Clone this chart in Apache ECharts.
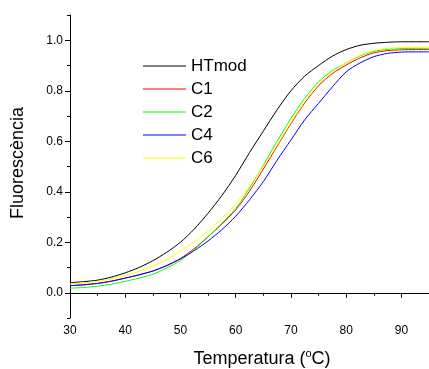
<!DOCTYPE html>
<html>
<head>
<meta charset="utf-8">
<script src="https://cdn.jsdelivr.net/npm/echarts@6/dist/echarts.min.js"></script>
<style>html,body{margin:0;padding:0;background:#fff}#c{width:429px;height:369px}</style>
</head>
<body>
<div id="c"></div>
<script>
const temps = [30,32.5,35,37.5,40,42.5,45,47.5,50,52.5,55,57.5,60,62.5,65,67.5,70,72.5,75,77.5,80,82.5,85,87.5,90,92.5,95];
const seriesNames = ['HTmod','C1','C2','C4','C6'];
const htmod = [0.040,0.044,0.050,0.062,0.079,0.100,0.127,0.160,0.200,0.252,0.315,0.385,0.465,0.555,0.640,0.725,0.800,0.858,0.900,0.937,0.963,0.980,0.988,0.992,0.994,0.994,0.994];
const c1 = [0.028,0.031,0.037,0.046,0.058,0.071,0.086,0.108,0.136,0.175,0.222,0.272,0.328,0.402,0.490,0.580,0.670,0.752,0.820,0.868,0.902,0.930,0.950,0.959,0.962,0.963,0.963];
const c2 = [0.018,0.021,0.026,0.034,0.045,0.058,0.073,0.098,0.128,0.170,0.222,0.275,0.333,0.415,0.505,0.600,0.690,0.770,0.835,0.880,0.910,0.938,0.956,0.964,0.967,0.968,0.968];
const c4 = [0.028,0.032,0.037,0.046,0.058,0.071,0.086,0.107,0.134,0.167,0.205,0.250,0.303,0.368,0.440,0.525,0.605,0.685,0.750,0.815,0.875,0.910,0.935,0.948,0.953,0.954,0.954];
const c6 = [0.035,0.039,0.045,0.055,0.068,0.085,0.106,0.132,0.165,0.202,0.245,0.295,0.352,0.422,0.500,0.585,0.675,0.757,0.825,0.875,0.910,0.940,0.960,0.968,0.971,0.972,0.972];
const yTickLabels = [0.0,0.2,0.4,0.6,0.8,1.0];
const xTitle = 'Temperatura (°C)';
const yTitle = 'Fluorescència';

const colors = ['#000000','#ff0000','#00ff00','#0000ff','#ffff00'];
const values = [htmod,c1,c2,c4,c6];
const FONT = 'Liberation Sans, Arial, sans-serif';

const chart = echarts.init(document.getElementById('c'), null, {renderer:'canvas'});
chart.setOption({
  animation:false,
  backgroundColor:'#fff',
  grid:{left:70, top:15, width:362, height:303, containLabel:false},
  legend:{
    data:seriesNames, orient:'vertical', left:143, top:56, padding:0, itemGap:3,
    itemWidth:43, itemHeight:14, icon:'path://M0,0L43,0L43,1L0,1Z',
    textStyle:{fontSize:17, fontFamily:FONT, color:'#000', lineHeight:20}
  },
  xAxis:{
    type:'value', min:30, max:95, interval:10,
    axisLine:{lineStyle:{color:'#000', width:1}},
    axisTick:{length:5, lineStyle:{color:'#000'}},
    minorTick:{show:true, splitNumber:2, length:3, lineStyle:{color:'#000'}},
    splitLine:{show:false},
    axisLabel:{fontSize:12, fontFamily:FONT, color:'#000', margin:7, showMaxLabel:false}
  },
  yAxis:[{
    type:'value', min:-0.1, max:1.1, interval:0.1,
    axisLine:{show:true, lineStyle:{color:'#000', width:1}},
    axisTick:{show:true, length:5, customValues:yTickLabels, lineStyle:{color:'#000'}},
    splitLine:{show:false},
    axisLabel:{fontSize:12, fontFamily:FONT, color:'#000', margin:7, customValues:yTickLabels,
      formatter:v=>v.toFixed(1)}
  },{
    type:'value', min:-0.1, max:1.1, interval:0.1, position:'left', offset:0,
    axisLine:{show:true, lineStyle:{color:'rgba(0,0,0,0)'}}, axisLabel:{show:false}, splitLine:{show:false},
    axisTick:{show:true, length:3, lineStyle:{color:'#000', width:1}}
  }],
  graphic:[
    {type:'text', x:18, y:163, rotation:Math.PI/2,
      style:{text:yTitle, fontSize:18, fontFamily:FONT, fill:'#000', align:'center', verticalAlign:'middle'}},
    {type:'text', x:262, y:359,
      style:{text:'Temperatura ({s|o}C)', fontSize:18, fontFamily:FONT, fill:'#000', align:'center', verticalAlign:'middle',
        rich:{s:{fontSize:11, fontFamily:FONT, fill:'#000', verticalAlign:'top', padding:[0,0,10,0]}}}}
  ],
  series: seriesNames.map((n,i)=>({
    name:n, type:'line', symbol:'none', smooth:0.25,
    lineStyle:{color:colors[i], width:1}, itemStyle:{color:colors[i]},
    data: temps.map((t,j)=>[t, values[i][j]])
  }))
});
</script>
</body>
</html>
